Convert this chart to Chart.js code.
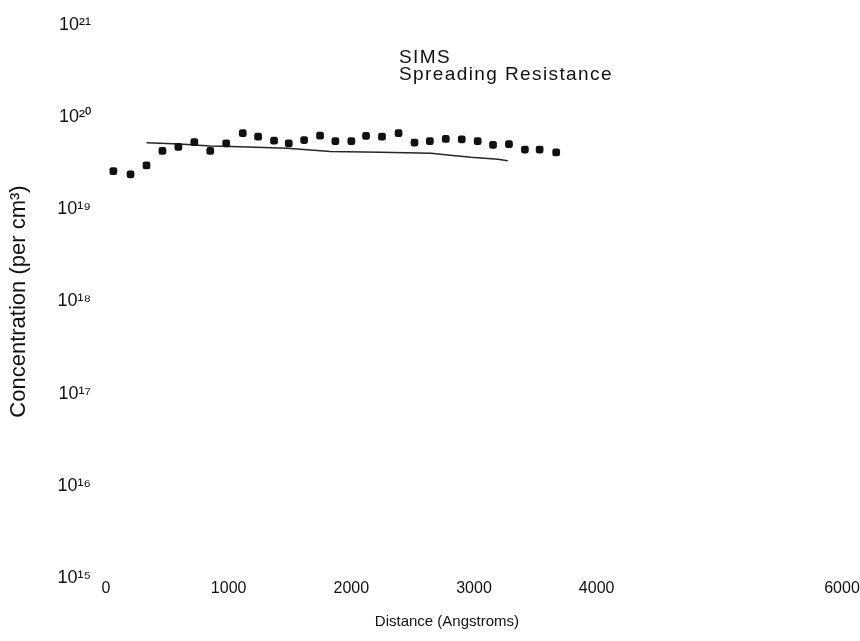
<!DOCTYPE html>
<html>
<head>
<meta charset="utf-8">
<script src="https://cdn.jsdelivr.net/npm/chart.js@4.4.1/dist/chart.umd.min.js"></script>
<style>
html,body{margin:0;padding:0;background:#ffffff;}
#wrap{width:860px;height:641px;position:relative;}
canvas{display:block;}
</style>
</head>
<body>
<div id="wrap"><canvas id="c" width="860" height="641" style="width:860px;height:641px"></canvas></div>
<script>
// SIMS profile (distance in Angstroms, concentration per cm^3)
const simsX = [60, 200, 330, 460, 590, 720, 850, 980, 1115, 1240, 1370, 1490, 1615, 1745, 1870, 2000, 2120, 2250, 2385, 2515, 2640, 2770, 2900, 3030, 3155, 3285, 3415, 3535, 3670];
const simsY = [2.6e19, 2.4e19, 3.0e19, 4.3e19, 4.75e19, 5.35e19, 4.3e19, 5.2e19, 6.7e19, 6.15e19, 5.55e19, 5.2e19, 5.65e19, 6.3e19, 5.5e19, 5.5e19, 6.25e19, 6.15e19, 6.7e19, 5.3e19, 5.5e19, 5.8e19, 5.75e19, 5.5e19, 5.0e19, 5.1e19, 4.45e19, 4.45e19, 4.15e19];

// Spreading resistance profile
const srX = [330, 600, 850, 1090, 1475, 1830, 2240, 2650, 2785, 2975, 3195, 3275];
const srY = [5.28e19, 5.12e19, 4.87e19, 4.79e19, 4.6e19, 4.23e19, 4.16e19, 4.06e19, 3.89e19, 3.67e19, 3.49e19, 3.37e19];

const seriesLabels = ['SIMS', 'Spreading Resistance'];

const xTicks = [0, 1000, 2000, 3000, 4000, 6000];
const xTickLabels = ['0', '1000', '2000', '3000', '4000', '6000'];
const yTicks = [1e15, 1e16, 1e17, 1e18, 1e19, 1e20, 1e21];
const yTickLabels = ['10¹⁵', '10¹⁶', '10¹⁷', '10¹⁸', '10¹⁹', '10²⁰', '10²¹'];

const xTitle = 'Distance (Angstroms)';
const yTitle = 'Concentration (per cm³)';

const FONT = '"Liberation Sans", Arial, Helvetica, sans-serif';
const INK = '#111111';

const legendText = {
  id: 'legendText',
  afterDraw(chart) {
    const ctx = chart.ctx, a = chart.chartArea;
    ctx.save();
    ctx.font = '19px ' + FONT;
    try { ctx.letterSpacing = '1.4px'; } catch (e) {}
    ctx.fillStyle = INK;
    ctx.textAlign = 'left';
    ctx.textBaseline = 'middle';
    chart.data.datasets.forEach((d, i) => {
      ctx.fillText(d.label, a.left + 293, a.top + 33 + i * 17);
    });
    ctx.restore();
  }
};

const pts = (xs, ys) => xs.map((x, i) => ({ x: x, y: ys[i] }));

new Chart(document.getElementById('c'), {
  type: 'scatter',
  data: {
    datasets: [
      {
        label: seriesLabels[0],
        data: pts(simsX, simsY),
        showLine: false,
        pointStyle: 'rectRounded',
        pointRadius: 4.5,
        pointHoverRadius: 4.5,
        backgroundColor: INK,
        borderColor: INK,
        borderWidth: 0
      },
      {
        label: seriesLabels[1],
        data: pts(srX, srY),
        showLine: true,
        pointRadius: 0,
        pointHoverRadius: 0,
        borderColor: '#262626',
        backgroundColor: '#262626',
        borderWidth: 1.5,
        tension: 0
      }
    ]
  },
  options: {
    responsive: false,
    animation: false,
    layout: { padding: { top: 25, right: 18, bottom: 0, left: 0 } },
    plugins: {
      legend: { display: false },
      tooltip: { enabled: false }
    },
    scales: {
      x: {
        type: 'linear',
        min: 0,
        max: 6000,
        grid: { display: false },
        border: { display: false },
        afterBuildTicks: (s) => { s.ticks = xTicks.map(v => ({ value: v })); },
        afterFit: (s) => { s.height = 63; },
        ticks: {
          color: INK,
          font: { family: FONT, size: 16 },
          padding: -7,
          maxRotation: 0,
          autoSkip: false,
          callback: (v) => { const i = xTicks.indexOf(v); return i >= 0 ? xTickLabels[i] : ''; }
        },
        title: {
          display: true,
          text: xTitle + '\u00A0'.repeat(13),
          color: INK,
          font: { family: FONT, size: 15 },
          padding: { top: 0, bottom: 10 }
        }
      },
      y: {
        type: 'logarithmic',
        min: 1e15,
        max: 1e21,
        grid: { display: false },
        border: { display: false },
        afterBuildTicks: (s) => { s.ticks = yTicks.map(v => ({ value: v })); },
        afterFit: (s) => { s.width = 106; },
        ticks: {
          color: INK,
          font: { family: FONT, size: 18 },
          padding: 7,
          autoSkip: false,
          callback: (v) => { const i = yTicks.findIndex(t => Math.abs(Math.log10(t) - Math.log10(v)) < 1e-6); return i >= 0 ? yTickLabels[i] : ''; }
        },
        title: {
          display: true,
          text: yTitle,
          color: INK,
          font: { family: FONT, size: 22 },
          padding: { top: 6, bottom: 0 }
        }
      }
    }
  },
  plugins: [legendText]
});
</script>
</body>
</html>
